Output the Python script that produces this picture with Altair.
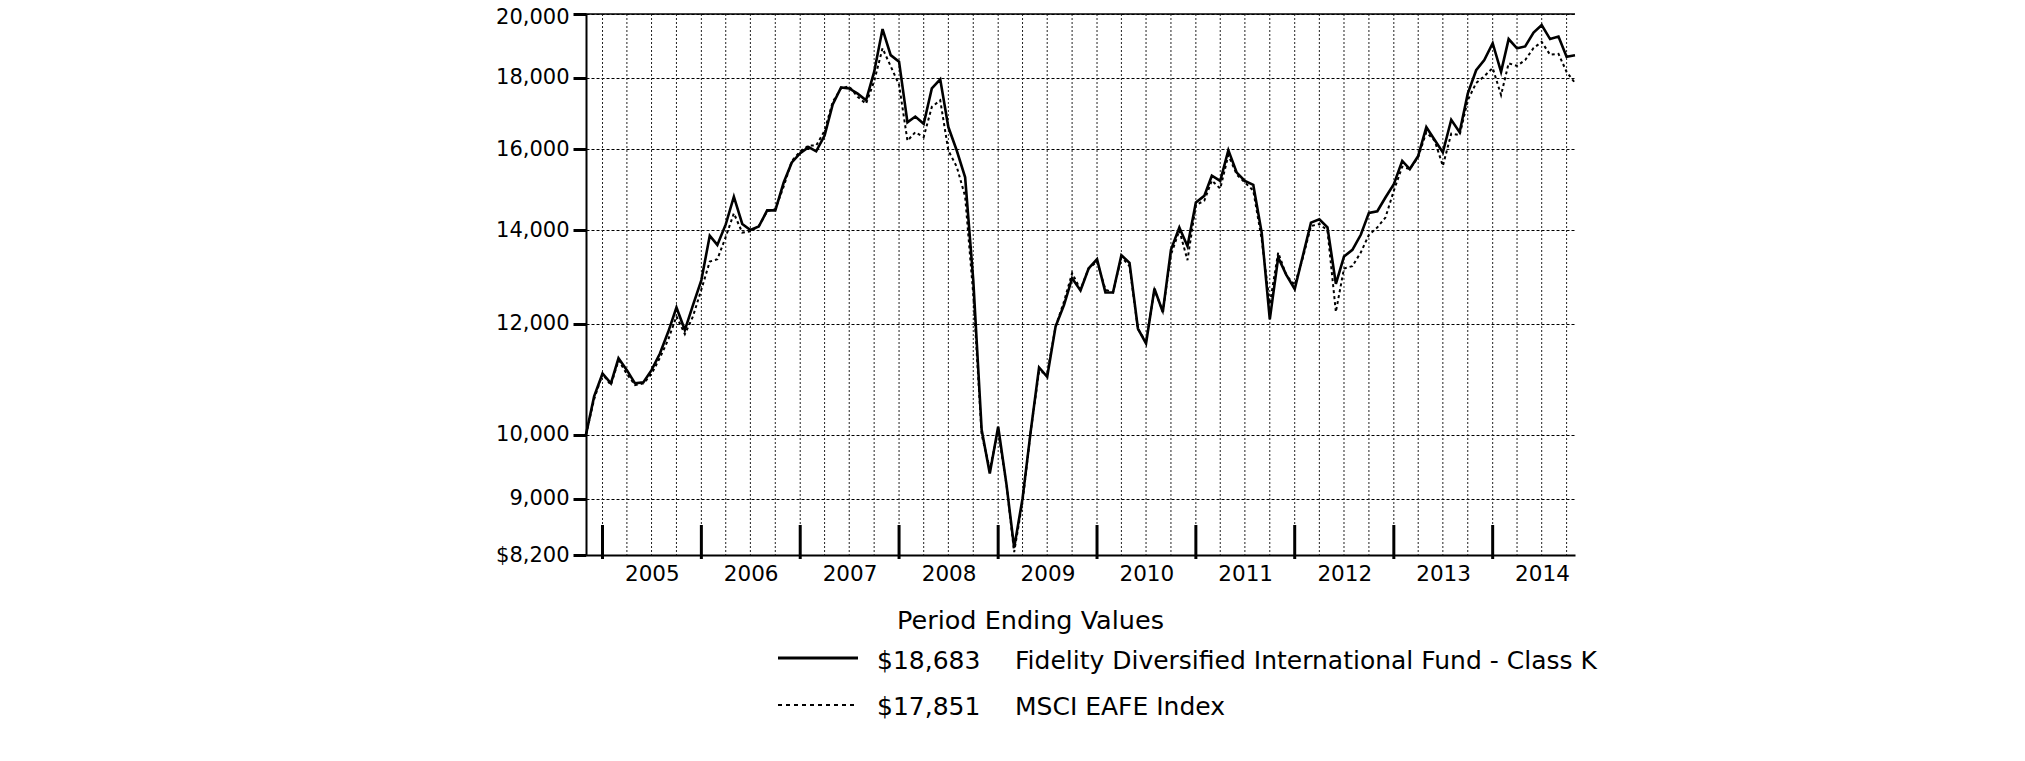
import calendar
import altair as alt
import pandas as pd

# ---------------- data ----------------
first_year, first_month = 2004, 10          # first month-end of the series
fund_values = [
    10000, 10650, 11060, 10880, 11340, 11120, 10880, 10900, 11120, 11430,
    11850, 12330, 11880, 12380, 12900, 13880, 13670, 14140, 14800, 14150,
    14010, 14090, 14470, 14470, 15150, 15660, 15900, 16060, 15950, 16370,
    17230, 17720, 17690, 17540, 17350, 18180, 19510, 18690, 18490, 16730,
    16890, 16690, 17690, 17960, 16600, 15970, 15280, 12900, 10080, 9380,
    10130, 9200, 8300, 9000, 10050, 11170, 11000, 11950, 12380, 12940,
    12680, 13150, 13350, 12640, 12640, 13440, 13270, 11910, 11620, 12720,
    12240, 13560, 14070, 13640, 14660, 14820, 15320, 15190, 15980, 15400,
    15190, 15090, 13950, 12090, 13390, 13010, 12710, 13450, 14180, 14260,
    14070, 12820, 13410, 13560, 13900, 14410, 14450, 14780, 15110, 15700,
    15490, 15830, 16600, 16250, 15920, 16800, 16460, 17540, 18230, 18540,
    19060, 18180, 19190, 18900, 18960, 19400, 19640, 19190, 19270, 18640,
    18683,
]
index_values = [
    10000, 10600, 11050, 10850, 11300, 11050, 10850, 10880, 11050, 11350,
    11700, 12150, 11800, 12150, 12700, 13300, 13350, 13850, 14400, 13950,
    13980, 14100, 14450, 14500, 15050, 15700, 15950, 16100, 16100, 16500,
    17300, 17700, 17750, 17450, 17250, 17900, 18900, 18350, 17800, 16230,
    16460, 16330, 17160, 17350, 15970, 15550, 14810, 12600, 10000, 9450,
    10050, 9200, 8240, 8950, 10050, 11100, 11050, 11950, 12450, 13050,
    12700, 13150, 13300, 12700, 12640, 13400, 13200, 11900, 11650, 12700,
    12250, 13450, 14000, 13330, 14600, 14700, 15200, 15000, 15850, 15350,
    15150, 14950, 13800, 12400, 13500, 13000, 12800, 13400, 14100, 14150,
    14000, 12240, 13150, 13200, 13500, 13900, 14070, 14300, 14950, 15550,
    15490, 15800, 16460, 16230, 15570, 16420, 16380, 17350, 17850, 18050,
    18300, 17500, 18440, 18360, 18540, 18910, 19100, 18700, 18730, 18180,
    17851,
]
year_labels = list(range(2005, 2015))
y_tick_values = [8200, 9000, 10000, 12000, 14000, 16000, 18000, 20000]
y_domain = [8200, 20000]
legend_title = "Period Ending Values"
legend_values = ["$18,683", "$17,851"]
legend_names = ["Fidelity Diversified International Fund -  Class K", "MSCI EAFE Index"]

# ---------------- derived tables ----------------
def month_end(y, m):
    return f"{y:04d}-{m:02d}-{calendar.monthrange(y, m)[1]:02d}T00:00:00"

dates = []
y, m = first_year, first_month
for _ in fund_values:
    dates.append(month_end(y, m))
    m += 1
    if m > 12:
        m, y = 1, y + 1

fund_df = pd.DataFrame({"date": dates, "value": fund_values})
index_df = pd.DataFrame({"date": dates, "value": index_values})

quarter_ends = []
for yy in range(2004, 2015):
    for mm in (3, 6, 9, 12):
        d = month_end(yy, mm)
        if dates[0] < d < dates[-1]:
            quarter_ends.append(d)
quarter_df = pd.DataFrame({"date": quarter_ends})
year_end_df = pd.DataFrame({"date": [month_end(yy, 12) for yy in range(2004, 2014)]})
one_row = pd.DataFrame({"k": [0]})

FONT = "DejaVu Sans"
W, H = 989, 541

x_scale = alt.Scale(domain=[alt.DateTime(year=2004, month=10, date=31),
                            alt.DateTime(year=2014, month=10, date=31)])
x_axis = alt.Axis(
    values=[alt.DateTime(year=yy, month=7, date=1) for yy in year_labels],
    format="%Y", ticks=False, tickSize=0, grid=False, labelPadding=8,
    labelFontSize=21.5, labelFont=FONT, labelColor="black", labelFlush=False,
    labelOverlap=False, domainColor="black", domainWidth=2,
    title=legend_title, titleFont=FONT, titleFontSize=25.5, titleFontWeight="normal",
    titleColor="black", titleX=444, titleY=73, titleAlign="center",
    titleBaseline="alphabetic",
)
x_enc = alt.X("date:T", scale=x_scale, axis=x_axis)

y_scale = alt.Scale(type="log", domain=y_domain, nice=False)
y_axis = alt.Axis(
    values=y_tick_values,
    labelExpr="(datum.value == 8200 ? '$' : '') + format(datum.value, ',')",
    labelOffset={"condition": {"test": "datum.value == 20000", "value": 3}, "value": 0},
    tickSize=13, tickWidth=3, tickColor="black", domainColor="black", domainWidth=2,
    grid=True, gridDash=[3, 2], gridColor="black", gridWidth=1,
    labelFontSize=21, labelFont=FONT, labelColor="black", labelPadding=4,
    labelOverlap=False, title=None,
)
y_enc = alt.Y("value:Q", scale=y_scale, axis=y_axis)

vgrid = alt.Chart(quarter_df).mark_rule(color="#222", strokeWidth=1, strokeDash=[2, 2]).encode(x=x_enc)
top_rule = alt.Chart(one_row).mark_rule(color="black", strokeWidth=1.5).encode(
    y=alt.Y(datum=y_domain[1], scale=y_scale, axis=y_axis))
index_line = alt.Chart(index_df).mark_line(color="black", strokeWidth=2, strokeDash=[3, 3]).encode(x=x_enc, y=y_enc)
fund_line = alt.Chart(fund_df).mark_line(color="black", strokeWidth=2.6).encode(x=x_enc, y=y_enc)
year_ticks = alt.Chart(year_end_df).mark_rule(color="black", strokeWidth=3).encode(
    x=x_enc, y=alt.value(511), y2=alt.value(545))

legend_layers = []
row_y = [(644, 655), (691, 701)]
dashes = [None, [4, 4]]
for i in range(2):
    line_y, text_y = row_y[i]
    kw = dict(color="black", strokeWidth=3 if i == 0 else 2)
    if dashes[i]:
        kw["strokeDash"] = dashes[i]
    legend_layers.append(alt.Chart(one_row).mark_rule(**kw).encode(
        x=alt.value(192), x2=alt.value(272), y=alt.value(line_y)))
    legend_layers.append(alt.Chart(one_row).mark_text(
        align="left", baseline="alphabetic", font=FONT, fontSize=25, color="black").encode(
        x=alt.value(291), y=alt.value(text_y), text=alt.value(legend_values[i])))
    legend_layers.append(alt.Chart(one_row).mark_text(
        align="left", baseline="alphabetic", font=FONT, fontSize=25, color="black").encode(
        x=alt.value(429), y=alt.value(text_y), text=alt.value(legend_names[i])))

chart = alt.layer(vgrid, top_rule, index_line, fund_line, year_ticks, *legend_layers).properties(
    width=W, height=H,
    padding={"left": 578, "top": 6, "right": 430, "bottom": 190},
    autosize=alt.AutoSizeParams(type="none"),
    background="white",
).configure_view(stroke=None)

chart.save("out.html", embed_options={"renderer": "svg", "actions": False})
